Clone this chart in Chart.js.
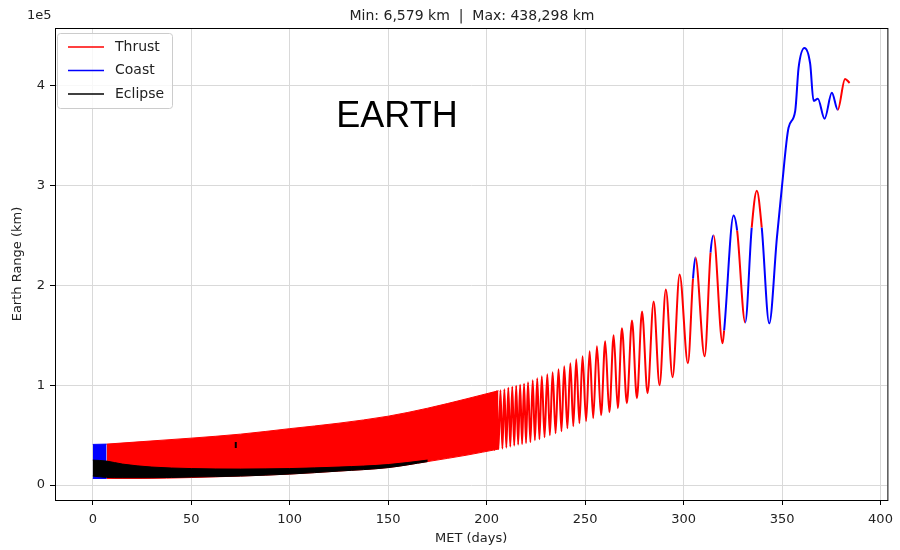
<!DOCTYPE html>
<html lang="en">
<head>
<meta charset="UTF-8">
<title>Earth Range vs MET</title>
<script src="https://cdn.jsdelivr.net/npm/chart.js"></script>
<style>
  html, body { margin: 0; padding: 0; background: #fff; }
  #wrap { width: 900px; height: 550px; position: relative; }
</style>
</head>
<body>
<div id="wrap"><canvas id="rangeChart" width="900" height="550"></canvas></div>
<script>
// range in units of 1e5 km, time in days (MET)

// dense spiral part: apogee / perigee envelopes of the red band
const bandDays  = [7, 25, 50, 75, 100, 125, 150, 170, 190, 206];
const bandUpper = [0.41, 0.435, 0.47, 0.51, 0.565, 0.62, 0.69, 0.77, 0.865, 0.945];
const bandLower = [0.066, 0.066, 0.075, 0.09, 0.11, 0.14, 0.175, 0.235, 0.30, 0.36];

// first week coasting
const coastDays  = [0, 7];
const coastUpper = [0.407, 0.41];
const coastLower = [0.066, 0.066];

// eclipse band
const eclDays = [0, 7, 15, 30, 50, 75, 100, 125, 150, 170];
const eclTop  = [0.25, 0.24, 0.21, 0.18, 0.165, 0.16, 0.165, 0.18, 0.205, 0.25];
const eclBot  = [0.09, 0.076, 0.073, 0.073, 0.08, 0.09, 0.11, 0.14, 0.175, 0.235];

// short eclipse near day 72
const eclMarkDays  = [72.6, 72.6];
const eclMarkRange = [0.37, 0.43];

// resolved orbits; phase = arc starting at that point (T thrust, C coast)
const orbitDays = [
  203.0, 204.0, 205.0, 206.0, 207.0, 208.0, 209.0, 210.0, 211.0, 212.0,
  213.0, 214.0, 215.0, 216.0, 217.0, 218.0, 219.0, 220.0,
  221.0, 222.2, 223.4, 224.5, 225.7, 226.8, 228.0, 229.4, 230.8, 232.1,
  233.5, 235.0, 236.5, 238.0, 239.4, 241.0, 242.5, 244.0, 245.5, 247.1,
  248.7, 250.5, 252.3, 254.1, 256.0, 258.1, 260.2, 262.3, 264.5, 266.6,
  268.7, 271.2, 273.8, 276.3, 278.9, 281.7, 284.8, 287.8, 291.0, 294.4,
  298.0, 302.2, 304.8, 306.0, 310.7, 313.7, 315.2, 319.8, 320.6, 325.4,
  327.2, 331.3, 334.6, 337.2, 339.7, 343.5, 347.4, 349.9, 353.3, 356.7,
  358.4, 361.4, 364.3, 366.0, 368.2, 371.6, 375.3, 378.3, 382.0, 384.3
];
const orbitRange = [
  0.93, 0.35, 0.94, 0.36, 0.95, 0.365, 0.96, 0.375, 0.975, 0.385,
  0.985, 0.395, 0.995, 0.405, 1.005, 0.41, 1.015, 0.42,
  1.03, 0.43, 1.05, 0.45, 1.07, 0.46, 1.09, 0.48, 1.11, 0.50,
  1.13, 0.52, 1.16, 0.54, 1.19, 0.57, 1.22, 0.59, 1.26, 0.62,
  1.29, 0.64, 1.34, 0.67, 1.39, 0.70, 1.44, 0.73, 1.50, 0.77,
  1.57, 0.82, 1.65, 0.87, 1.74, 0.92, 1.84, 1.00, 1.96, 1.08,
  2.11, 1.22, 2.07, 2.28, 1.29, 2.33, 2.50, 1.42, 1.55, 2.70,
  2.55, 1.63, 2.58, 2.95, 2.58, 1.62, 2.48, 2.98, 3.58, 3.75,
  4.18, 4.38, 4.22, 3.85, 3.87, 3.67, 3.93, 3.76, 4.07, 4.03
];
const orbitPhase = [
  'T','T','T','T','T','T','T','T','T','T',
  'T','T','T','T','T','T','T','T',
  'T','T','T','T','T','T','T','T','T','T',
  'T','T','T','T','T','T','T','T','T','T',
  'T','T','T','T','T','T','T','T','T','T',
  'T','T','T','T','T','T','T','T','T','T',
  'T','T','C','T','T','C','T','T','C','C',
  'T','C','T','T','C','C','C','C','C','C',
  'C','C','C','C','C','C','C','T','T','T'
];

const xTicks = [0, 50, 100, 150, 200, 250, 300, 350, 400];
const yTicks = [0, 1, 2, 3, 4];

const RED = '#ff0000', BLUE = '#0000ff', BLACK = '#000000';
const FONT = '"DejaVu Sans", sans-serif';

function pts(xs, ys) { return xs.map((x, i) => ({ x: x, y: ys[i] })); }

const overlay = {
  id: 'overlay',
  afterDraw(chart) {
    const c = chart.ctx, a = chart.chartArea;
    c.save();
    c.strokeStyle = '#000';
    c.lineWidth = 1;
    c.strokeRect(a.left + 0.5, a.top + 0.5, a.right - a.left, a.bottom - a.top);

    c.fillStyle = '#222';
    c.font = '14px ' + FONT;
    c.textAlign = 'center';
    c.textBaseline = 'middle';
    c.fillText('Min: 6,579 km  |  Max: 438,298 km', 472, 16);
    c.textAlign = 'left';
    c.font = '13px ' + FONT;
    c.fillText('1e5', 27, 16);

    c.fillStyle = '#000';
    c.font = '36px "Liberation Sans", Arial, sans-serif';
    c.textAlign = 'center';
    c.fillText('EARTH', 397, 117);

    // legend
    c.fillStyle = 'rgba(255,255,255,0.8)';
    c.strokeStyle = '#cccccc';
    c.beginPath();
    c.roundRect(57.5, 33.5, 115, 75, 3);
    c.fill();
    c.stroke();
    const items = [['Thrust', RED], ['Coast', BLUE], ['Eclipse', BLACK]];
    c.font = '14px ' + FONT;
    c.textAlign = 'left';
    items.forEach((it, i) => {
      const y = 47 + i * 23.5;
      c.strokeStyle = it[1];
      c.lineWidth = 1.6;
      c.beginPath();
      c.moveTo(68, y);
      c.lineTo(104, y);
      c.stroke();
      c.fillStyle = '#222';
      c.fillText(it[0], 115, y);
    });
    c.restore();
  }
};

new Chart(document.getElementById('rangeChart'), {
  type: 'line',
  data: {
    datasets: [
      { data: pts(bandDays, bandUpper), borderColor: RED, backgroundColor: RED, borderWidth: 1, fill: 1, order: 6, cubicInterpolationMode: 'monotone' },
      { data: pts(bandDays, bandLower), borderColor: RED, borderWidth: 1, fill: false, order: 6, cubicInterpolationMode: 'monotone' },
      { data: pts(coastDays, coastUpper), borderColor: BLUE, backgroundColor: BLUE, borderWidth: 1, fill: 3, order: 5 },
      { data: pts(coastDays, coastLower), borderColor: BLUE, borderWidth: 1, fill: false, order: 5 },
      { data: pts(eclDays, eclTop), borderColor: BLACK, backgroundColor: BLACK, borderWidth: 1, fill: 5, order: 4, cubicInterpolationMode: 'monotone' },
      { data: pts(eclDays, eclBot), borderColor: BLACK, borderWidth: 1, fill: false, order: 4, cubicInterpolationMode: 'monotone' },
      {
        data: pts(orbitDays, orbitRange), borderWidth: 2, fill: false, order: 2,
        cubicInterpolationMode: 'monotone', borderColor: RED,
        segment: { borderColor: ctx => orbitPhase[ctx.p0DataIndex] === 'C' ? BLUE : RED }
      },
      { data: pts(eclMarkDays, eclMarkRange), borderColor: BLACK, borderWidth: 2, fill: false, order: 1 }
    ]
  },
  options: {
    responsive: false,
    animation: false,
    maintainAspectRatio: false,
    layout: { padding: { top: 28, right: 12, left: 0, bottom: 0 } },
    elements: { point: { radius: 0 } },
    plugins: { legend: { display: false }, tooltip: { enabled: false } },
    scales: {
      x: {
        type: 'linear', min: -19.2, max: 403.5,
        afterBuildTicks: s => { s.ticks = xTicks.map(v => ({ value: v })); },
        afterFit: s => { s.height = 50; },
        grid: { color: '#d9d9d9', tickColor: '#000', tickLength: 5 },
        border: { color: '#000' },
        ticks: { font: { family: FONT, size: 13 }, color: '#222', padding: 7, maxRotation: 0 },
        title: { display: true, text: 'MET (days)', font: { family: FONT, size: 13 }, color: '#222', padding: { top: 0, bottom: 4 } }
      },
      y: {
        type: 'linear', min: -0.15, max: 4.58,
        afterBuildTicks: s => { s.ticks = yTicks.map(v => ({ value: v })); },
        afterFit: s => { s.width = 55; },
        grid: { color: '#d9d9d9', tickColor: '#000', tickLength: 5 },
        border: { color: '#000' },
        ticks: { font: { family: FONT, size: 13 }, color: '#222', padding: 5 },
        title: { display: true, text: 'Earth Range (km)', font: { family: FONT, size: 13 }, color: '#222', padding: { top: 10, bottom: 0 } }
      }
    }
  },
  plugins: [overlay]
});
</script>
</body>
</html>
